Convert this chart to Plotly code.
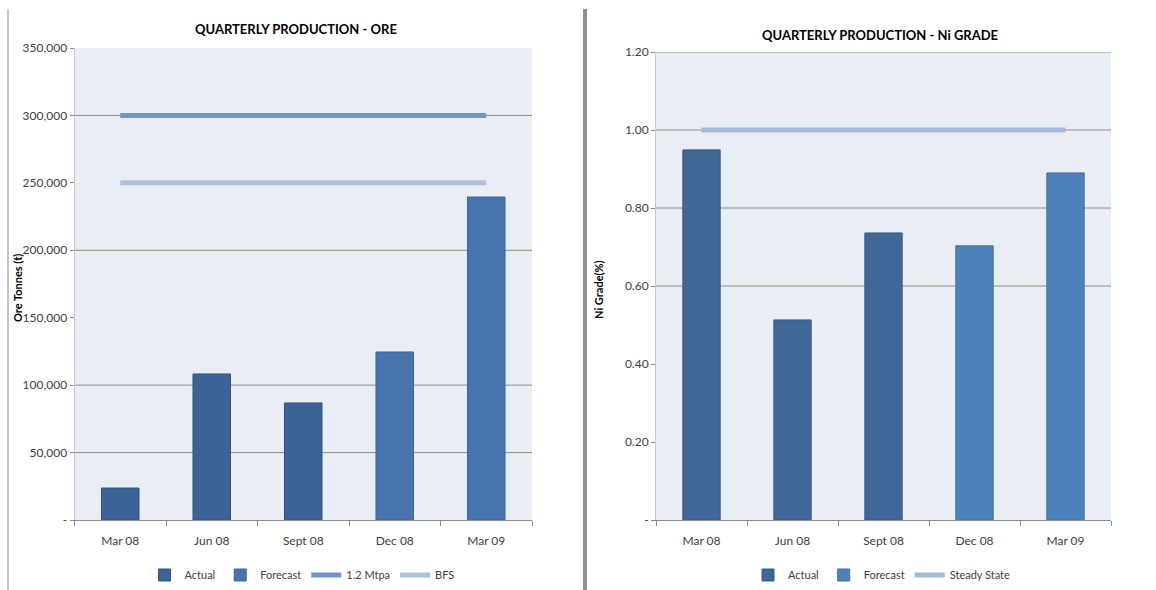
import plotly.graph_objects as go

# ---------------- data ----------------
categories = ["Mar 08", "Jun 08", "Sept 08", "Dec 08", "Mar 09"]

ore_actual = [23700, 108300, 86800, None, None]
ore_forecast = [None, None, None, 124600, 239500]
ore_mtpa = [300000, 300000, 300000, 300000, 300000]
ore_bfs = [250000, 250000, 250000, 250000, 250000]

ni_actual = [0.949, 0.513, 0.736, None, None]
ni_forecast = [None, None, None, 0.703, 0.890]
ni_steady = [1.0, 1.0, 1.0, 1.0, 1.0]

ore_ticks = [0, 50000, 100000, 150000, 200000, 250000, 300000, 350000]
ore_ticktext = ["-" if v == 0 else f"{v:,}" for v in ore_ticks]
ore_grid = [50000, 100000, 200000, 300000]

ni_ticks = [0, 0.2, 0.4, 0.6, 0.8, 1.0, 1.2]
ni_ticktext = ["-" if v == 0 else f"{v:.2f}" for v in ni_ticks]
ni_grid = [0.6, 0.8, 1.0, 1.2]

# ---------------- style ----------------
W, H = 1156, 590
FONT = "Lato"
TXT = "#404040"
BG = "#e9edf4"
GRID = "#8c8c8c"

def px(x):
    return x / W

def py(y):
    return (H - y) / H

fig = go.Figure()

# left chart
fig.add_trace(go.Bar(x=categories, y=ore_actual, name="Actual", marker=dict(color="#3b6395", line=dict(color="#2f5484", width=1)),
                     xaxis="x", yaxis="y", legend="legend"))
fig.add_trace(go.Bar(x=categories, y=ore_forecast, name="Forecast", marker=dict(color="#4675ae", line=dict(color="#39659c", width=1)),
                     xaxis="x", yaxis="y", legend="legend"))
fig.add_trace(go.Scatter(x=categories, y=ore_mtpa, name="1.2 Mtpa", mode="lines", line=dict(color="#7394c6", width=5),
                         xaxis="x", yaxis="y", legend="legend"))
fig.add_trace(go.Scatter(x=categories, y=ore_bfs, name="BFS", mode="lines", line=dict(color="#adc0de", width=5),
                         xaxis="x", yaxis="y", legend="legend"))

# right chart
fig.add_trace(go.Bar(x=categories, y=ni_actual, name="Actual", marker=dict(color="#3f6899", line=dict(color="#325a89", width=1)),
                     xaxis="x2", yaxis="y2", legend="legend2"))
fig.add_trace(go.Bar(x=categories, y=ni_forecast, name="Forecast", marker=dict(color="#4e80bc", line=dict(color="#3f6ea8", width=1)),
                     xaxis="x2", yaxis="y2", legend="legend2"))
fig.add_trace(go.Scatter(x=categories, y=ni_steady, name="Steady State", mode="lines", line=dict(color="#a6b9da", width=5),
                         xaxis="x2", yaxis="y2", legend="legend2"))

xcommon = dict(type="category", tickson="boundaries", ticks="outside", ticklen=5, tickcolor=GRID,
               showline=True, linecolor=GRID, linewidth=1, showgrid=False, zeroline=False, automargin=False,
               ticklabelstandoff=10,
               tickfont=dict(family=FONT, size=12, color=TXT), fixedrange=True)
ycommon = dict(ticks="outside", ticklen=4, tickcolor=GRID, showline=True, linecolor="#c8c8c8", linewidth=1,
               showgrid=False, zeroline=False, automargin=False,
               tickfont=dict(family=FONT, size=12, color=TXT), fixedrange=True)

fig.update_layout(
    width=W, height=H,
    margin=dict(l=0, r=0, t=0, b=0),
    paper_bgcolor="white", plot_bgcolor=BG,
    barmode="overlay", bargap=0.59,
    xaxis=dict(domain=[px(74.5), px(532)], anchor="y", **xcommon),
    yaxis=dict(domain=[py(520), py(48)], anchor="x", range=[0, 350000], tickvals=ore_ticks, ticktext=ore_ticktext, **ycommon),
    xaxis2=dict(domain=[px(656), px(1111)], anchor="y2", **xcommon),
    yaxis2=dict(domain=[py(520), py(52)], anchor="x2", range=[0, 1.2], tickvals=ni_ticks, ticktext=ni_ticktext, **ycommon),
    legend=dict(orientation="h", x=px(302), xanchor="center", y=py(575), yanchor="middle",
                font=dict(family=FONT, size=11, color=TXT), bgcolor="rgba(0,0,0,0)", traceorder="normal"),
    legend2=dict(orientation="h", x=px(882), xanchor="center", y=py(575), yanchor="middle",
                 font=dict(family=FONT, size=11, color=TXT), bgcolor="rgba(0,0,0,0)", traceorder="normal"),
    showlegend=True,
)

shapes = []
for g in ore_grid:
    shapes.append(dict(type="line", xref="x domain", yref="y", x0=0, x1=1, y0=g, y1=g,
                       line=dict(color=GRID, width=1), layer="below"))
for g in ni_grid:
    shapes.append(dict(type="line", xref="x2 domain", yref="y2", x0=0, x1=1, y0=g, y1=g,
                       line=dict(color=GRID, width=1), layer="below"))
# panel borders
shapes.append(dict(type="line", xref="paper", yref="paper", x0=px(8), x1=px(8), y0=0, y1=py(9),
                   line=dict(color="#8a8a8a", width=1)))
shapes.append(dict(type="line", xref="paper", yref="paper", x0=px(585), x1=px(585), y0=0, y1=py(9),
                   line=dict(color="#8f8f8f", width=4)))
fig.update_layout(shapes=shapes)

ann = dict(xref="paper", yref="paper", showarrow=False, xanchor="center", yanchor="middle")
annotations = [
    dict(text="<b>QUARTERLY PRODUCTION - ORE</b>", x=px(296), y=py(29),
         font=dict(family=FONT, size=13, color="#000000"), **ann),
    dict(text="<b>QUARTERLY PRODUCTION - Ni GRADE</b>", x=px(880), y=py(35),
         font=dict(family=FONT, size=13, color="#000000"), **ann),
    dict(text="<b>Ore Tonnes (t)</b>", x=px(17), y=py(288), textangle=-90,
         font=dict(family=FONT, size=11, color="#000000"), **ann),
    dict(text="<b>Ni Grade(%)</b>", x=px(598), y=py(290), textangle=-90,
         font=dict(family=FONT, size=11, color="#000000"), **ann),
]
fig.update_layout(annotations=annotations)

fig.write_html("out.html")
